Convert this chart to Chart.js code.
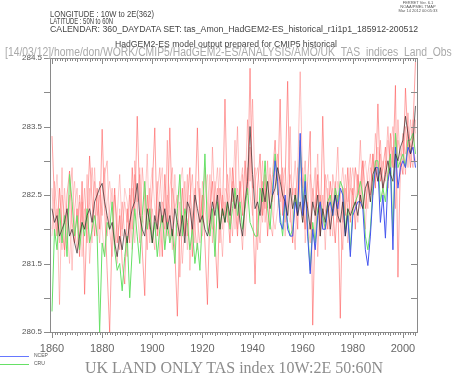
<!DOCTYPE html>
<html>
<head>
<meta charset="utf-8">
<script src="https://cdn.jsdelivr.net/npm/chart.js@4"></script>
<style>
  body { margin: 0; background: #fff; }
  #wrap { position: relative; width: 453px; height: 374px; overflow: hidden; font-family: "Liberation Sans", Arial, sans-serif; }
  #wrap .t { position: absolute; white-space: nowrap; line-height: 1; transform-origin: 0 0; }
  #c { position: absolute; left: 0; top: 0; }
  .key { position: absolute; left: 0; width: 29px; height: 0; }
</style>
</head>
<body>
<div id="wrap">
  <canvas id="c" width="453" height="374"></canvas>
  <div class="t" data-w="104" style="left:50px;top:10px;font-size:8.5px;color:#444">LONGITUDE : 10W to 2E(362)</div>
  <div class="t" data-w="63" style="left:50px;top:17px;font-size:8.5px;color:#444">LATITUDE : 50N to 60N</div>
  <div class="t" data-w="368" style="left:50px;top:25px;font-size:8.5px;color:#444">CALENDAR: 360_DAYDATA SET: tas_Amon_HadGEM2-ES_historical_r1i1p1_185912-200512</div>
  <div class="t" data-w="222" style="left:115px;top:40px;font-size:8.5px;color:#444">HadGEM2-ES model output prepared for CMIP5 historical</div>
  <div class="t" data-w="447" style="left:5px;top:46px;font-size:12px;color:#aaa">[14/03/12]/home/don/WORK/CMIP5/HadGEM2-ES/ANALYSIS/AMO/UK_TAS_indices_Land_Obs</div>
  <div class="t" style="left:393px;width:50px;text-align:center;top:1px;font-size:4px;color:#555;line-height:4px">FERRET Ver. 6.1<br>NOAA/PMEL TMAP<br>Mar 14 2012 00:05:33</div>

  <div class="key" style="top:356px;border-top:1px solid #6677ff"></div>
  <div class="t" style="left:34px;top:353px;font-size:5px;color:#555">NCEP</div>
  <div class="key" style="top:364px;border-top:1px solid #66e066"></div>
  <div class="t" style="left:34px;top:361px;font-size:5px;color:#555">CRU</div>
  <div class="t" data-w="298" style="left:85px;top:360px;font-size:16px;color:#8c8c8c;font-family:'Liberation Serif',serif">UK LAND ONLY TAS index 10W:2E 50:60N</div>
</div>
<script>
// annual values, first year given separately
const modelStart = 1860;
const obsStart = 1860;
const ncepStart = 1948;

const member1 = [
  283.36, 282.4, 281.9, 282.6, 282.0, 281.7, 282.5, 282.85, 282.1, 281.8,
  282.3, 281.6, 282.7, 281.05, 282.2, 283.07, 282.4, 281.9, 282.6, 282.0,
  283.46, 282.3, 281.4, 280.5, 282.0, 282.6, 281.8, 282.2, 281.5, 281.2,
  282.3, 281.8, 282.9, 282.2, 283.65, 282.4, 281.7, 281.03, 282.5, 282.0,
  282.6, 283.48, 281.9, 282.3, 281.6, 282.8, 282.1, 283.48, 282.2, 281.7,
  280.73, 282.0, 282.6, 281.9, 282.4, 282.9, 281.6, 282.3, 283.48, 282.1,
  282.5, 281.8, 280.9, 282.3, 282.7, 281.9, 281.14, 282.6, 282.2, 283.9,
  282.3, 281.8, 282.9, 282.4, 281.9, 282.7, 282.2, 283.0, 282.5, 284.35,
  282.4, 281.2, 282.6, 283.1, 282.2, 282.8, 281.9, 282.5, 282.8, 283.3,
  282.5, 283.9, 282.2, 282.7, 284.16, 282.3, 281.8, 282.6, 282.0, 283.2,
  282.4, 282.0, 282.7, 283.43, 280.6, 282.2, 282.8, 281.9, 283.65, 282.3,
  282.0, 282.7, 282.3, 281.8, 282.5, 280.7, 282.6, 282.2, 282.9, 282.1,
  282.6, 282.0, 282.8, 282.4, 283.0, 282.3, 282.7, 282.5, 283.1, 282.6,
  283.83, 282.7, 282.9, 283.2, 282.6, 283.4, 282.9, 284.1, 281.3, 283.0,
  282.8, 284.06, 283.3, 282.9, 283.5, 284.45
];
const member2 = [
  282.6, 281.9, 282.3, 280.9, 282.5, 282.2, 281.8, 282.4, 282.9, 282.0,
  281.7, 282.5, 282.1, 282.6, 281.8, 282.4, 282.9, 282.3, 281.9, 282.7,
  282.2, 282.8, 283.0, 282.0, 281.6, 282.5, 282.1, 281.7, 282.4, 281.9,
  281.6, 282.6, 282.0, 282.8, 282.3, 281.8, 282.9, 282.4, 281.7, 282.6,
  282.0, 281.7, 282.5, 282.9, 282.2, 282.0, 283.3, 281.8, 282.6, 282.3,
  282.5, 281.3, 282.1, 282.7, 281.9, 282.4, 282.8, 282.0, 281.7, 282.6,
  282.1, 282.9, 282.4, 281.9, 283.2, 282.3, 282.6, 281.8, 282.5, 282.2,
  282.8, 282.4, 281.9, 282.6, 283.5, 282.2, 281.7, 282.5, 283.6, 282.7,
  283.9, 282.6, 282.1, 281.8, 282.7, 282.3, 283.0, 282.1, 281.9, 282.6,
  283.1, 282.4, 282.9, 282.1, 282.6, 283.5, 282.2, 281.7, 282.8, 284.3,
  282.6, 283.0, 282.1, 281.8, 282.4, 282.9, 281.6, 282.5, 282.2, 282.8,
  282.4, 281.9, 282.8, 282.5, 283.2, 282.1, 281.7, 282.6, 282.3, 282.9,
  282.2, 282.9, 282.5, 283.3, 282.4, 282.0, 282.8, 283.1, 282.5, 283.0,
  282.7, 283.3, 282.6, 282.9, 283.5, 282.8, 283.2, 282.3, 283.6, 282.9,
  283.4, 282.8, 283.7, 283.1, 282.9, 283.6
];
const member3 = [
  282.0, 282.7, 282.3, 281.8, 282.9, 281.6, 282.2, 282.5, 281.4, 282.3,
  282.6, 281.9, 282.4, 282.0, 282.8, 281.5, 282.1, 282.7, 282.3, 281.8,
  282.5, 282.9, 281.9, 282.3, 282.6, 281.7, 282.2, 282.8, 282.0, 282.4,
  282.1, 282.5, 281.7, 283.0, 282.4, 282.8, 281.9, 282.3, 283.1, 281.8,
  282.3, 282.0, 282.7, 281.6, 282.4, 282.2, 281.9, 282.6, 282.9, 282.1,
  281.9, 282.4, 281.5, 282.1, 282.8, 281.4, 282.2, 282.6, 282.1, 281.8,
  282.7, 282.3, 282.0, 282.8, 281.8, 282.5, 282.9, 282.2, 281.6, 282.4,
  282.1, 282.9, 282.4, 283.3, 282.0, 282.6, 282.9, 281.9, 282.4, 283.2,
  282.6, 282.9, 281.7, 282.4, 283.0, 282.1, 282.5, 282.9, 282.2, 282.0,
  282.3, 282.8, 282.5, 281.9, 282.4, 282.8, 282.5, 283.0, 282.3, 282.7,
  282.9, 281.8, 282.4, 282.0, 282.6, 282.3, 283.1, 282.0, 282.5, 281.7,
  282.6, 282.3, 281.9, 282.7, 282.1, 282.5, 282.9, 282.4, 281.8, 282.6,
  282.9, 282.5, 282.1, 282.7, 283.0, 282.6, 282.3, 282.9, 282.7, 283.4,
  282.8, 283.1, 282.5, 283.0, 282.7, 283.2, 283.5, 282.9, 283.3, 283.1,
  283.0, 283.5, 282.9, 283.6, 283.2, 283.0
];
const member4 = [
  281.9, 282.3, 282.8, 282.1, 281.7, 282.6, 282.0, 281.5, 282.3, 282.7,
  282.1, 282.4, 281.6, 282.3, 282.0, 282.6, 281.8, 282.9, 282.2, 282.5,
  282.0, 281.6, 282.4, 282.7, 282.3, 282.0, 281.5, 282.3, 281.9, 282.6,
  282.4, 282.0, 282.6, 281.8, 282.3, 282.9, 282.1, 282.6, 282.0, 282.5,
  282.9, 282.3, 282.1, 282.6, 282.9, 281.8, 282.5, 282.3, 281.7, 282.8,
  282.2, 282.6, 282.9, 282.3, 281.7, 282.5, 282.2, 281.8, 282.7, 282.4,
  281.9, 282.5, 282.8, 282.2, 282.0, 282.7, 282.3, 282.9, 282.0, 282.6,
  282.5, 282.1, 282.7, 282.0, 282.6, 282.4, 282.8, 282.3, 282.9, 282.5,
  282.2, 282.7, 282.9, 282.5, 282.1, 282.6, 282.3, 282.8, 282.4, 282.9,
  282.6, 282.2, 282.7, 282.9, 282.3, 282.1, 282.6, 282.4, 282.9, 282.5,
  282.1, 282.6, 282.3, 282.8, 282.5, 282.2, 282.7, 282.4, 282.0, 282.6,
  282.8, 282.4, 282.6, 282.2, 282.7, 282.5, 282.1, 282.8, 282.4, 282.6,
  282.5, 282.9, 282.7, 282.3, 282.8, 283.0, 282.6, 282.4, 283.1, 282.7,
  283.2, 282.8, 283.0, 282.7, 283.3, 282.9, 283.1, 283.4, 283.0, 282.8,
  283.3, 283.1, 283.5, 283.2, 283.6, 283.4
];
// black curve
const ensMean = [
  282.3, 282.1, 282.2, 281.9, 282.0, 282.1, 282.3, 281.9, 282.0, 281.8,
  281.65, 281.9, 282.1, 282.0, 282.2, 282.3, 282.1, 282.4, 282.5, 282.6,
  282.67, 282.4, 282.2, 282.0, 282.1, 281.8, 281.6, 281.9, 281.7, 282.0,
  281.8, 282.1, 282.3, 282.4, 282.67, 282.2, 282.0, 281.9, 282.3, 282.1,
  281.8, 282.2, 282.0, 282.4, 282.1, 282.3, 282.0, 282.2, 281.9, 282.3,
  282.1, 281.9, 282.2, 281.8, 282.4, 282.3, 282.0, 282.5, 282.3, 282.1,
  282.2, 282.0, 281.9, 282.1, 282.4, 282.2, 282.5, 282.0, 282.3, 282.1,
  282.4, 282.2, 282.6, 282.3, 282.5, 282.1, 281.9, 282.4, 282.7, 283.5,
  282.8, 282.3, 282.4, 282.2, 282.6, 282.4, 282.7, 282.3, 282.5, 282.6,
  282.9, 282.7, 282.5, 282.4, 282.2, 282.6, 282.3, 282.5, 282.2, 282.4,
  282.1, 282.5, 282.3, 282.0, 282.4, 282.2, 282.5, 281.9, 282.3, 282.1,
  282.4, 282.0, 282.3, 282.5, 282.2, 282.1, 282.4, 281.9, 282.3, 282.2,
  282.3, 282.4, 282.2, 282.5, 282.3, 282.6, 282.7, 282.4, 282.8, 282.9,
  282.7, 282.9, 282.6, 282.8, 283.0, 282.8, 282.7, 283.1, 283.0, 283.2,
  283.3, 283.65, 283.4, 283.1, 283.3, 283.8
];
const cru = [
  280.8, 282.0, 281.7, 282.3, 281.8, 282.2, 281.6, 282.8, 282.4, 281.9,
  282.2, 281.7, 282.1, 281.9, 282.3, 281.8, 282.0, 282.2, 281.9, 280.5,
  281.8, 281.6, 282.1, 282.0, 282.4, 281.7, 281.4, 281.5, 281.1, 281.6,
  281.9, 281.0, 281.7, 282.3, 281.9, 281.5, 282.2, 282.7, 282.0, 282.3,
  281.8, 282.1, 281.6, 282.0, 282.2, 281.7, 282.1, 281.8, 282.0, 281.5,
  282.3, 282.8, 281.9, 282.3, 282.1, 281.7, 282.0, 281.5, 281.8, 281.4,
  282.2, 283.1, 282.0, 281.9, 282.3, 281.6, 282.4, 282.0, 282.3, 282.1,
  282.4, 282.0, 282.3, 282.6, 282.2, 282.4, 282.0, 282.3, 282.6, 282.1,
  282.0, 281.9, 281.9, 282.6, 282.4, 283.0, 282.3, 282.0, 282.6, 283.1,
  282.6, 282.2, 281.9, 282.4, 282.1, 281.9, 282.0, 282.5, 282.3, 283.3,
  282.3, 282.8, 282.0, 281.4, 282.1, 281.8, 282.3, 282.4, 282.2, 282.0,
  282.4, 282.5, 282.2, 282.6, 282.4, 282.7, 282.6, 282.0, 282.3, 281.7,
  282.3, 282.4, 282.5, 282.7, 282.5, 281.9, 281.7, 282.0, 282.6, 283.0,
  283.0, 282.4, 282.6, 282.4, 282.8, 283.1, 281.9, 283.4, 282.9, 283.0,
  283.1, 282.9, 283.3, 283.3, 283.4, 283.1
];
const ncep = [
  282.5, 283.0,
  282.7, 282.1, 282.0, 282.5, 282.0, 281.9, 281.9, 282.4, 282.2, 283.4,
  282.2, 282.7, 281.9, 281.35, 282.0, 281.7, 282.2, 282.4, 282.0, 282.0,
  282.3, 282.4, 282.2, 282.5, 282.3, 282.6, 282.5, 281.9, 282.2, 281.6,
  282.2, 282.3, 282.4, 282.4, 282.3, 281.7, 281.47, 281.9, 282.5, 282.9,
  282.9, 282.1, 282.5, 281.87, 282.7, 282.9, 281.7, 283.2, 282.6, 282.9,
  283.0, 282.9, 283.2, 283.1, 283.2, 282.9
];

const xLabels = [1860, 1880, 1900, 1920, 1940, 1960, 1980, 2000];
const yLabels = [280.5, 281.5, 282.5, 283.5, 284.5];
const yTicks = [280.5, 281.0, 281.5, 282.0, 282.5, 283.0, 283.5, 284.0, 284.5];

// squeeze the header strings to the widths they have in the plot
document.querySelectorAll('#wrap .t[data-w]').forEach(el => {
  const want = +el.dataset.w;
  const have = el.getBoundingClientRect().width;
  el.style.transform = 'scaleX(' + (want / have).toFixed(3) + ')';
});

function pts(vals, start) {
  return vals.map((v, i) => ({ x: start + i, y: v }));
}

function line(label, vals, start, color, order) {
  return {
    label: label,
    data: pts(vals, start),
    borderColor: color,
    borderWidth: 1,
    pointRadius: 0,
    tension: 0,
    order: order
  };
}

// axis frame + the small ferret style tick marks
const frame = {
  id: 'frame',
  afterDraw(chart) {
    const { ctx, chartArea: a, scales } = chart;
    const x = scales.x, y = scales.y;
    ctx.save();
    ctx.strokeStyle = '#8a8a8a';
    ctx.lineWidth = 1;
    ctx.strokeRect(a.left + 0.5, a.top + 0.5, a.right - a.left, a.bottom - a.top);
    ctx.beginPath();
    for (let yr = 1860; yr <= 2005; yr++) {
      const px = Math.round(x.getPixelForValue(yr)) + 0.5;
      const big = yr % 20 === 0;
      const mid = yr % 5 === 0;
      const len = big ? 6 : (mid ? 4 : 3);
      ctx.moveTo(px, a.bottom);
      ctx.lineTo(px, a.bottom + len);
      ctx.moveTo(px, a.top);
      ctx.lineTo(px, a.top + len);
    }
    yTicks.forEach(v => {
      const py = Math.round(y.getPixelForValue(v)) + 0.5;
      ctx.moveTo(a.left, py);
      ctx.lineTo(a.left - 6, py);
      ctx.moveTo(a.right, py);
      ctx.lineTo(a.right - 6, py);
    });
    ctx.stroke();
    ctx.restore();
  }
};

new Chart(document.getElementById('c'), {
  type: 'line',
  data: {
    datasets: [
      line('r1', member1, modelStart, 'rgba(255,70,70,0.5)', 7),
      line('r2', member2, modelStart, 'rgba(255,90,90,0.38)', 6),
      line('r3', member3, modelStart, 'rgba(255,100,100,0.35)', 5),
      line('r4', member4, modelStart, 'rgba(255,110,110,0.32)', 4),
      line('CRU', cru, obsStart, '#66e066', 3),
      line('NCEP', ncep, ncepStart, '#4455ee', 2),
      line('mean', ensMean, modelStart, 'rgba(50,40,40,0.7)', 1)
    ]
  },
  options: {
    responsive: false,
    animation: false,
    devicePixelRatio: 1,
    layout: { padding: { top: 58, right: 36, left: 0, bottom: 0 } },
    plugins: {
      legend: { display: false },
      tooltip: { enabled: false }
    },
    scales: {
      x: {
        type: 'linear',
        min: 1859.2,
        max: 2005.6,
        grid: { display: false, drawTicks: false },
        border: { display: false },
        afterBuildTicks: s => { s.ticks = xLabels.map(v => ({ value: v })); },
        afterFit: s => { s.height = 42; },
        ticks: {
          padding: 10,
          maxRotation: 0,
          autoSkip: false,
          color: '#666',
          font: { family: 'Liberation Sans', size: 11 },
          callback: v => String(v)
        }
      },
      y: {
        min: 280.5,
        max: 284.5,
        grid: { display: false, drawTicks: false },
        border: { display: false },
        afterBuildTicks: s => { s.ticks = yLabels.map(v => ({ value: v })); },
        afterFit: s => { s.width = 50; },
        ticks: {
          padding: 8,
          color: '#555',
          font: { family: 'Liberation Sans', size: 8 },
          callback: v => v.toFixed(1)
        }
      }
    }
  },
  plugins: [frame]
});
</script>
</body>
</html>
